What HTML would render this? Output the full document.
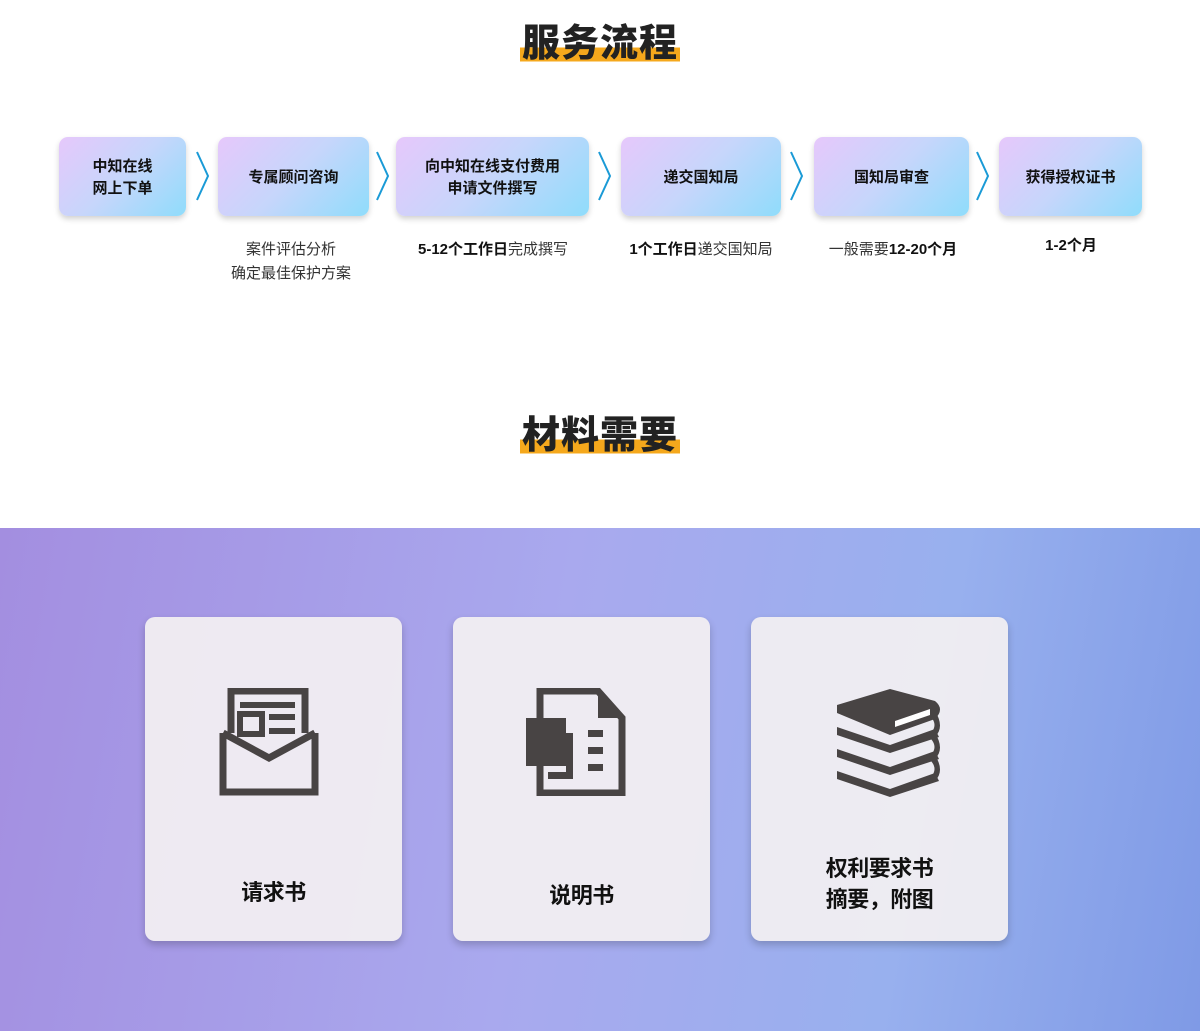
<!DOCTYPE html>
<html><head><meta charset="utf-8"><style>
body{margin:0;width:1200px;height:1031px;position:relative;background:#fff;font-family:"Liberation Sans","Noto Sans CJK SC",sans-serif;overflow:hidden}
.t{position:absolute;left:0;width:1200px;text-align:center;font-size:38px;font-weight:900;color:#222;letter-spacing:1px}
.t span{background:linear-gradient(transparent 58%,#f5a81c 58%,#f5a81c 92%,transparent 92%);padding:0 2px}
.b{position:absolute;top:137px;height:79px;border-radius:9px;background:linear-gradient(135deg,#e6c8fb 0%,#c6d6fb 50%,#8fdcfb 100%);box-shadow:0 3px 6px rgba(0,0,0,.18);display:flex;align-items:center;justify-content:center;text-align:center;font-size:15px;font-weight:bold;color:#111;line-height:22px;padding-top:3px;box-sizing:border-box}
.a{position:absolute;top:150px}
.s{position:absolute;top:238px;text-align:center;font-size:15px;color:#333;line-height:24px;transform:translateX(-50%);white-space:nowrap}
.s b{color:#111}
.bg{position:absolute;left:0;top:528px;width:1200px;height:503px;background:linear-gradient(100deg,#a38ee0 0%,#a9a9ee 45%,#98b0ee 75%,#7f9ae6 100%)}
.c{position:absolute;top:617px;width:257px;height:324px;border-radius:10px;background:rgba(243,240,242,.93);box-shadow:0 4px 8px rgba(0,0,0,.2)}
.c .l{position:absolute;left:0;width:100%;text-align:center;font-size:22px;font-weight:bold;color:#111;line-height:31px;letter-spacing:-0.5px}
</style></head><body>
<div class="t" style="top:12px"><span>服务流程</span></div>
<div class="b" style="left:59px;width:127px">中知在线<br>网上下单</div>
<div class="b" style="left:218px;width:151px">专属顾问咨询</div>
<div class="b" style="left:396px;width:193px">向中知在线支付费用<br>申请文件撰写</div>
<div class="b" style="left:621px;width:160px">递交国知局</div>
<div class="b" style="left:814px;width:155px">国知局审查</div>
<div class="b" style="left:999px;width:143px">获得授权证书</div>
<svg class="a" style="left:195px" width="16" height="52"><polyline points="2,2 13,26 2,50" fill="none" stroke="#1a9ad6" stroke-width="2"/></svg>
<svg class="a" style="left:375px" width="16" height="52"><polyline points="2,2 13,26 2,50" fill="none" stroke="#1a9ad6" stroke-width="2"/></svg>
<svg class="a" style="left:597px" width="16" height="52"><polyline points="2,2 13,26 2,50" fill="none" stroke="#1a9ad6" stroke-width="2"/></svg>
<svg class="a" style="left:789px" width="16" height="52"><polyline points="2,2 13,26 2,50" fill="none" stroke="#1a9ad6" stroke-width="2"/></svg>
<svg class="a" style="left:975px" width="16" height="52"><polyline points="2,2 13,26 2,50" fill="none" stroke="#1a9ad6" stroke-width="2"/></svg>
<div class="s" style="left:291px">案件评估分析<br>确定最佳保护方案</div>
<div class="s" style="left:493px"><b>5-12个工作日</b>完成撰写</div>
<div class="s" style="left:701px"><b>1个工作日</b>递交国知局</div>
<div class="s" style="left:893px">一般需要<b>12-20个月</b></div>
<div class="s" style="left:1071px;top:234px"><b>1-2个月</b></div>
<div class="t" style="top:404px"><span>材料需要</span></div>
<div class="bg"></div>
<div class="c" style="left:145px">
<svg style="position:absolute;left:73px;top:71px" width="102" height="108" viewBox="0 0 102 108"><g fill="none" stroke="#484444" stroke-width="7"><polyline points="13,45 13,3 87,3 87,45"/><polyline points="5,45 5,104 97,104 97,45"/><polyline points="5,45 51,70 97,45"/></g><rect x="22" y="14" width="55" height="6" fill="#484444"/><rect x="22" y="26" width="22" height="20" fill="none" stroke="#484444" stroke-width="6"/><rect x="51" y="26" width="26" height="6" fill="#484444"/><rect x="51" y="40" width="26" height="6" fill="#484444"/></svg>
<div class="l" style="top:260px">请求书</div></div>
<div class="c" style="left:453px">
<svg style="position:absolute;left:73px;top:71px" width="100" height="108" viewBox="0 0 100 108"><path d="M14,3 H72 L96,30 V105 H14 Z" fill="none" stroke="#484444" stroke-width="7"/><path d="M72,3 L96,30 H72Z" fill="#484444"/><rect x="0" y="30" width="40" height="48" fill="#484444"/><rect x="40" y="45" width="7" height="45" fill="#484444"/><rect x="22" y="84" width="25" height="7" fill="#484444"/><rect x="62" y="42" width="15" height="7" fill="#484444"/><rect x="62" y="59" width="15" height="7" fill="#484444"/><rect x="62" y="76" width="15" height="7" fill="#484444"/></svg>
<div class="l" style="top:263px">说明书</div></div>
<div class="c" style="left:751px">
<svg style="position:absolute;left:84px;top:70px" width="110" height="110" viewBox="0 0 110 110"><g fill="#484444"><path d="M2,18 L55,2 L100,14 Q110,22 100,32 L55,48 L2,26Z"/><path d="M2,40 L55,58 L100,42 L104,50 L55,66 L2,48Z"/><path d="M2,62 L55,80 L100,64 L104,72 L55,88 L2,70Z"/><path d="M2,84 L55,102 L100,86 L104,94 L55,110 L2,92Z"/><path d="M100,24 Q110,40 100,50 L96,46 Q103,38 96,30Z"/><path d="M100,46 Q110,62 100,72 L96,68 Q103,60 96,52Z"/><path d="M100,68 Q110,84 100,94 L96,90 Q103,82 96,74Z"/></g><path d="M60,34 L95,22 L95,28 L60,40Z" fill="#fff"/></svg>
<div class="l" style="top:236px">权利要求书<br>摘要，附图</div></div>
</body></html>
